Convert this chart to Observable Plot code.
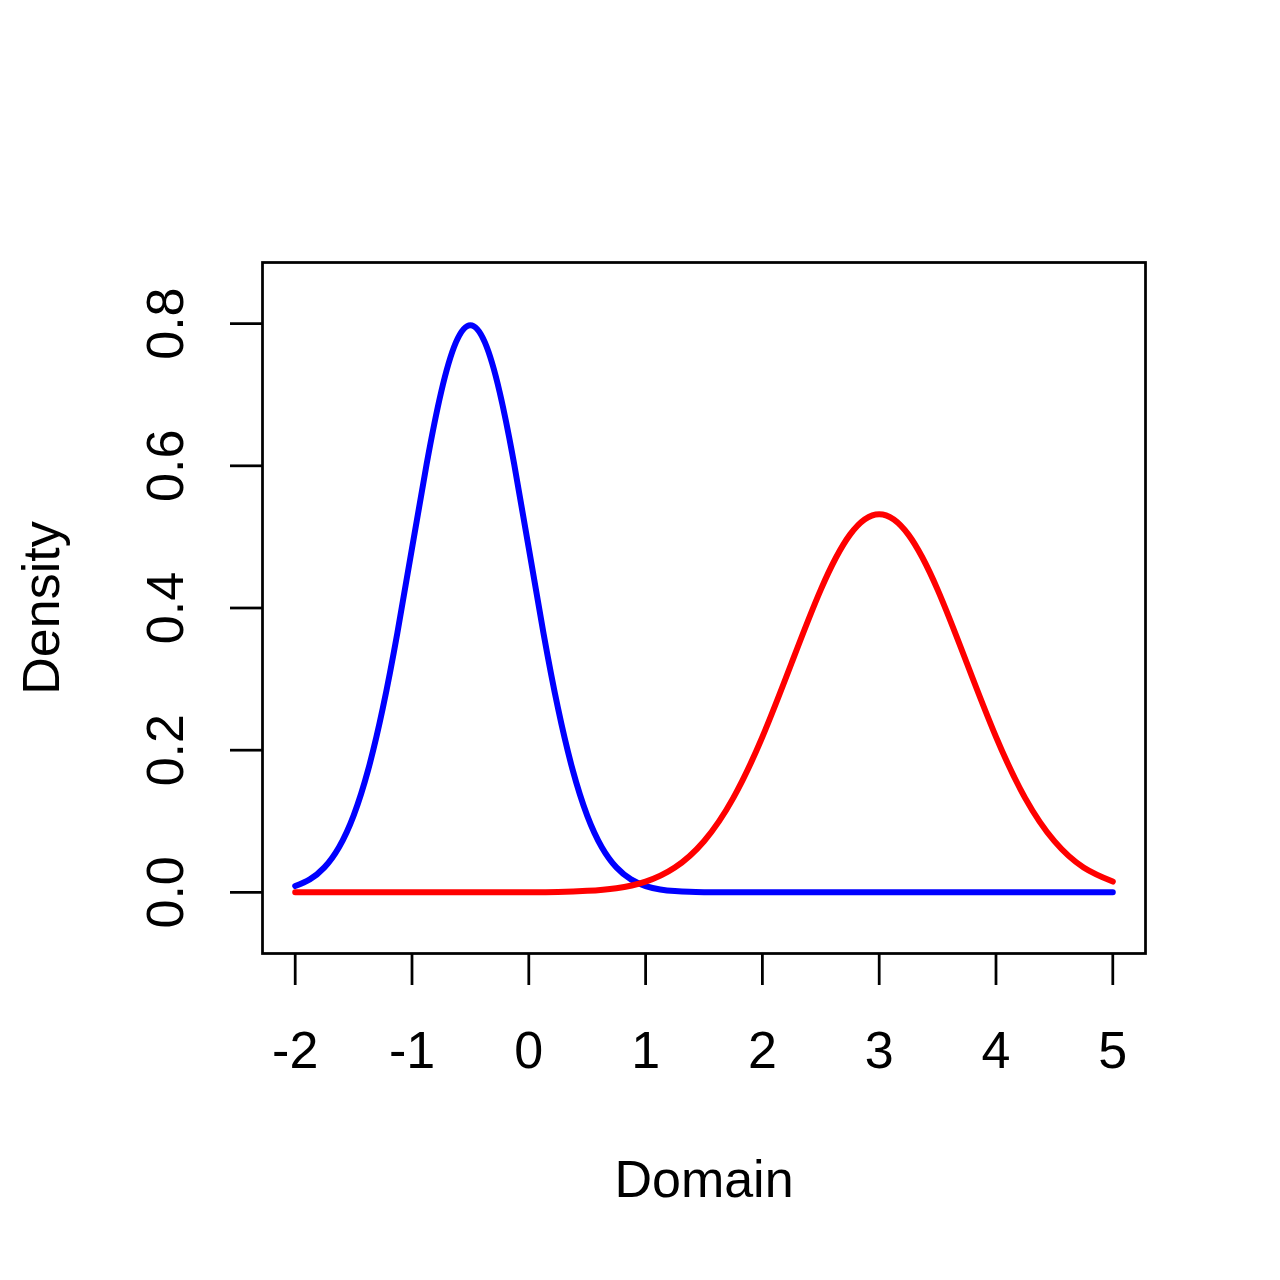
<!DOCTYPE html>
<html>
<head>
<meta charset="utf-8">
<script src="https://cdn.jsdelivr.net/npm/d3@7"></script>
<script src="https://cdn.jsdelivr.net/npm/@observablehq/plot@0.6"></script>
<style>
  body { margin: 0; background: #fff; }
</style>
</head>
<body>
<div id="chart"></div>
<script>
// Blue density curve
const blueX = [-2, -1.875, -1.75, -1.625, -1.5, -1.375, -1.25, -1.125, -1, -0.875, -0.75, -0.625, -0.5,
  -0.375, -0.25, -0.125, 0, 0.125, 0.25, 0.375, 0.5, 0.625, 0.75, 0.875, 1, 1.125, 1.25, 1.375, 1.5, 1.625, 1.75, 1.875, 2,
  2.25, 2.5, 2.75, 3, 3.25, 3.5, 3.75, 4, 4.25, 4.5, 4.75, 5];
const blueY = [0.0089, 0.0182, 0.0351, 0.0635, 0.108, 0.1726, 0.259, 0.3653, 0.4839, 0.6023, 0.7041, 0.7733, 0.7979,
  0.7733, 0.7041, 0.6023, 0.4839, 0.3653, 0.259, 0.1726, 0.108, 0.0635, 0.0351, 0.0182, 0.0089, 0.0041, 0.0018, 0.0007, 0.0003, 0.0001, 0.00003, 0.00001, 0,
  0, 0, 0, 0, 0, 0, 0, 0, 0, 0, 0, 0];
// Red density curve
const redX = [-2, -1.75, -1.5, -1.25, -1, -0.75, -0.5, -0.25, 0, 0.25, 0.5, 0.75, 1, 1.25, 1.5, 1.75, 2, 2.25, 2.5, 2.75, 3,
  3.25, 3.5, 3.75, 4, 4.25, 4.5, 4.75, 5];
const redY = [0, 0, 0, 0, 0, 0, 0.00001, 0.00005, 0.0002, 0.0006, 0.0021, 0.0059, 0.0152, 0.035, 0.072, 0.1326, 0.2187, 0.3226, 0.4259, 0.5032, 0.5319,
  0.5032, 0.4259, 0.3226, 0.2187, 0.1326, 0.072, 0.035, 0.0152];
const xTicks = [-2, -1, 0, 1, 2, 3, 4, 5];
const yTicks = [0, 0.2, 0.4, 0.6, 0.8];
const yTickLabels = ["0.0", "0.2", "0.4", "0.6", "0.8"];
const xLabel = "Domain";
const yLabel = "Density";

const blue = blueX.map((x, i) => ({x, y: blueY[i]}));
const red = redX.map((x, i) => ({x, y: redY[i]}));
const yLab = yTicks.map((v, i) => ({v, t: yTickLabels[i]}));

const FONT = "'Liberation Sans', Arial, Helvetica, sans-serif";
const FS = 52;

const chart = Plot.plot({
  width: 1280,
  height: 1280,
  marginLeft: 262,
  marginRight: 135,
  marginTop: 262,
  marginBottom: 327,
  style: {fontFamily: FONT, background: "#fff", color: "#000"},
  x: {domain: [-2.28, 5.28]},
  y: {domain: [-0.086, 0.886]},
  marks: [
    Plot.line(blue, {x: "x", y: "y", stroke: "#0000ff", strokeWidth: 6, curve: "natural", strokeLinecap: "round", strokeLinejoin: "round"}),
    Plot.line(red, {x: "x", y: "y", stroke: "#ff0000", strokeWidth: 6, curve: "natural", strokeLinecap: "round", strokeLinejoin: "round"}),
    Plot.frame({stroke: "#000", strokeWidth: 2.75}),
    Plot.axisX({ticks: xTicks, tickSize: 32, tickPadding: 46, tickFormat: d => String(d), fontSize: FS, strokeWidth: 2.75, label: null}),
    Plot.axisY({ticks: yTicks, tickSize: 32, tickFormat: () => "", strokeWidth: 2.75, label: null}),
    Plot.text(yLab, {y: "v", text: "t", frameAnchor: "left", dx: -96, rotate: -90, textAnchor: "middle", lineAnchor: "middle", fontSize: FS}),
    Plot.text([yLabel], {text: d => d, frameAnchor: "left", dx: -220, rotate: -90, textAnchor: "middle", lineAnchor: "middle", fontSize: FS}),
    Plot.text([xLabel], {text: d => d, frameAnchor: "bottom", dy: 227, textAnchor: "middle", lineAnchor: "middle", fontSize: FS})
  ]
});
document.getElementById("chart").appendChild(chart);
</script>
</body>
</html>
